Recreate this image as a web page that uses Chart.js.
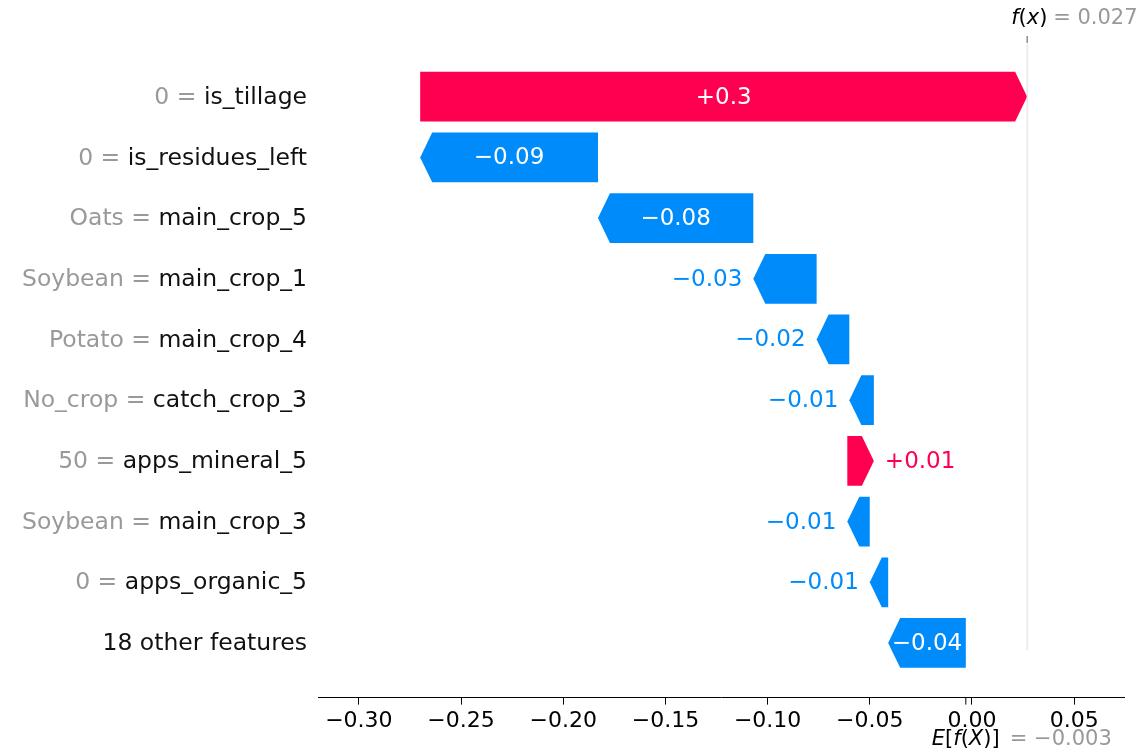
<!DOCTYPE html>
<html>
<head>
<meta charset="utf-8">
<title>SHAP waterfall</title>
<script src="https://cdn.jsdelivr.net/npm/chart.js@4.4.0/dist/chart.umd.min.js"></script>
<style>
  html, body { margin: 0; padding: 0; background: #fff; }
  #wrap { width: 1142px; height: 755px; }
</style>
</head>
<body>
<div id="wrap"><canvas id="chart1"></canvas></div>
<script>
// Features from top to bottom, with the value the feature had
const features = [
  "is_tillage",
  "is_residues_left",
  "main_crop_5",
  "main_crop_1",
  "main_crop_4",
  "catch_crop_3",
  "apps_mineral_5",
  "main_crop_3",
  "apps_organic_5",
  "18 other features",
];
const featureValues = ["0", "0", "Oats", "Soybean", "Potato", "No_crop", "50", "Soybean", "0", ""];

// SHAP contribution of each feature
const shapValues = [0.297, -0.087, -0.076, -0.031, -0.016, -0.012, 0.013, -0.011, -0.009, -0.038];
const baseValue = -0.003;
const xTicks = [-0.3, -0.25, -0.2, -0.15, -0.1, -0.05, 0, 0.05];

const RED = "#ff0051";
const BLUE = "#008bfb";
const GREY = "#999999";
const FONT = "DejaVu Sans";

// stack the contributions up from the base value (bottom row first)
const bars = new Array(features.length);
let running = baseValue;
for (let i = features.length - 1; i >= 0; i--) {
  bars[i] = { x: [running, running + shapValues[i]], y: i };
  running += shapValues[i];
}
const fx = running;

function minus(s) {
  return s.replace("-", "\u2212");
}
function barLabel(v) {
  let s = Math.abs(v).toFixed(2).replace(/0+$/, "").replace(/\.$/, "");
  return (v < 0 ? "\u2212" : "+") + s;
}

// draw a row of text pieces, some italic / grey
function drawParts(ctx, parts, x, y, size) {
  ctx.textAlign = "left";
  ctx.textBaseline = "middle";
  parts.forEach((p) => {
    ctx.font = (p.italic ? "italic " : "") + size + "px " + FONT;
    ctx.fillStyle = p.color || "#000";
    ctx.fillText(p.t, x, y);
    x += ctx.measureText(p.t).width;
  });
}

// arrows + value labels
const arrowPlugin = {
  id: "arrows",
  afterDatasetsDraw(chart) {
    const ctx = chart.ctx;
    const xs = chart.scales.x;
    const meta = chart.getDatasetMeta(0);
    const headLen = 12;
    ctx.save();
    meta.data.forEach((bar, i) => {
      const v = shapValues[i];
      const start = xs.getPixelForValue(bars[i].x[0]);
      const end = xs.getPixelForValue(bars[i].x[1]);
      const cy = bar.y;
      const top = cy - bar.height / 2;
      const bottom = cy + bar.height / 2;
      const dir = v >= 0 ? 1 : -1;
      const head = Math.min(headLen, Math.abs(end - start));
      const neck = end - dir * head;
      const color = v >= 0 ? RED : BLUE;

      ctx.beginPath();
      ctx.moveTo(start, top);
      ctx.lineTo(neck, top);
      ctx.lineTo(end, cy);
      ctx.lineTo(neck, bottom);
      ctx.lineTo(start, bottom);
      ctx.closePath();
      ctx.fillStyle = color;
      ctx.fill();

      const txt = barLabel(v);
      ctx.font = "23px " + FONT;
      ctx.textBaseline = "middle";
      const w = ctx.measureText(txt).width;
      if (w + 4 < Math.abs(end - start)) {
        ctx.fillStyle = "#fff";
        ctx.textAlign = "center";
        ctx.fillText(txt, (start + end) / 2, cy + 1);
      } else {
        ctx.fillStyle = color;
        ctx.textAlign = dir > 0 ? "left" : "right";
        ctx.fillText(txt, end + dir * 11, cy + 1);
      }
    });
    ctx.restore();
  },
};

// feature labels, f(x) / E[f(X)] markers
const labelPlugin = {
  id: "labels",
  afterDraw(chart) {
    const ctx = chart.ctx;
    const xs = chart.scales.x;
    const ys = chart.scales.y;
    const area = chart.chartArea;
    ctx.save();

    const right = area.left - 11;
    ctx.textBaseline = "middle";
    ctx.textAlign = "right";
    ctx.font = "23.5px " + FONT;
    features.forEach((name, i) => {
      const y = ys.getPixelForValue(i) + 1;
      ctx.fillStyle = "#111";
      ctx.fillText(name, right, y);
      if (featureValues[i] !== "") {
        const w = ctx.measureText(name).width;
        ctx.fillStyle = GREY;
        ctx.fillText(featureValues[i] + " = ", right - w, y);
      }
    });

    // f(x) line and top tick
    const fxPx = xs.getPixelForValue(fx);
    ctx.strokeStyle = "#dddddd";
    ctx.lineWidth = 1;
    ctx.beginPath();
    ctx.moveTo(fxPx, area.top + 8);
    ctx.lineTo(fxPx, ys.getPixelForValue(9.12));
    ctx.stroke();
    ctx.strokeStyle = "#555";
    ctx.beginPath();
    ctx.moveTo(fxPx, area.top);
    ctx.lineTo(fxPx, area.top + 7);
    ctx.stroke();
    drawParts(ctx, [
      { t: "f", italic: true },
      { t: "(" },
      { t: "x", italic: true },
      { t: ")" },
    ], fxPx - 16, 19, 21);
    drawParts(ctx, [{ t: "= " + fx.toFixed(3), color: GREY }], fxPx + 26, 19, 21);

    // base value tick and label
    const basePx = xs.getPixelForValue(baseValue);
    ctx.strokeStyle = "#000";
    ctx.beginPath();
    ctx.moveTo(basePx, area.bottom);
    ctx.lineTo(basePx, area.bottom + 7);
    ctx.stroke();
    drawParts(ctx, [
      { t: "E", italic: true },
      { t: "[" },
      { t: "f", italic: true },
      { t: "(" },
      { t: "X", italic: true },
      { t: ")]" },
    ], basePx - 34, 740, 21);
    drawParts(ctx, [{ t: "= " + minus(baseValue.toFixed(3)), color: GREY }], basePx + 44, 740, 21);

    ctx.restore();
  },
};

const config1 = {
  type: "bar",
  data: {
    datasets: [
      {
        data: bars,
        backgroundColor: "rgba(0,0,0,0)",
        borderWidth: 0,
        barPercentage: 1,
        categoryPercentage: 0.82,
      },
    ],
  },
  options: {
    indexAxis: "y",
    responsive: true,
    maintainAspectRatio: false,
    animation: false,
    layout: {
      padding: { left: 318, right: 18, top: 36, bottom: 18 },
    },
    plugins: {
      legend: { display: false },
      tooltip: { enabled: false },
    },
    scales: {
      y: {
        type: "linear",
        display: false,
        reverse: true,
        offset: false,
        min: -1,
        max: 9.9,
      },
      x: {
        type: "linear",
        min: -0.32,
        max: 0.0744,
        afterBuildTicks: (scale) => {
          scale.ticks = xTicks.map((v) => ({ value: v }));
        },
        ticks: {
          autoSkip: false,
          maxRotation: 0,
          padding: 3,
          color: "#000",
          font: { family: FONT, size: 22 },
          callback: (v) => minus(Number(v).toFixed(2)),
        },
        grid: {
          drawOnChartArea: false,
          drawTicks: true,
          tickLength: 7,
          color: "#000",
        },
        border: { display: true, color: "#000", width: 1 },
      },
    },
  },
  plugins: [arrowPlugin, labelPlugin],
};

const waterfall = new Chart(document.getElementById("chart1"), config1);
</script>
</body>
</html>
